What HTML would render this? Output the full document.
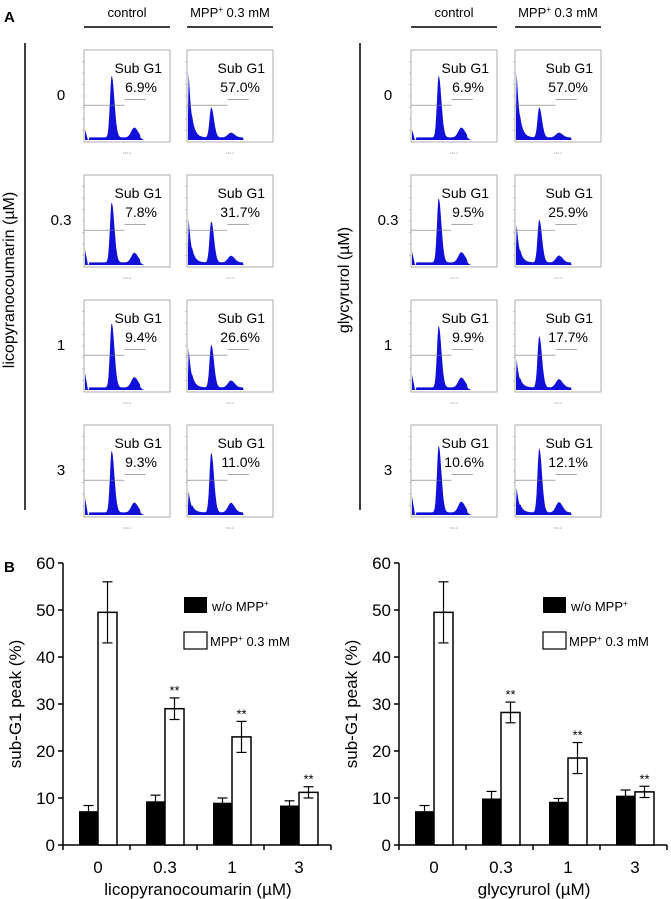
<!DOCTYPE html>
<html><head><meta charset="utf-8"><style>
body{margin:0;background:#fff}
svg{display:block;font-family:"Liberation Sans",Arial,sans-serif}
</style></head><body>
<svg id="fig" width="671" height="899" viewBox="0 0 671 899" xmlns="http://www.w3.org/2000/svg">
<text x="4" y="22" font-size="15" font-weight="bold">A</text>
<text x="4" y="572" font-size="15" font-weight="bold">B</text>
<g id="flow"></g>
<g id="bars"></g>
</svg>
<script>
// Flow panels: sub-G1 percentages
const rowLabels = ["0","0.3","1","3"];
const licoControl = ["6.9%","7.8%","9.4%","9.3%"];
const licoMpp = ["57.0%","31.7%","26.6%","11.0%"];
const glyControl = ["6.9%","9.5%","9.9%","10.6%"];
const glyMpp = ["57.0%","25.9%","17.7%","12.1%"];
// histogram shape params: sub-G1 height, G1 peak height (fractions)
const licoCtrlSub = [0.12,0.18,0.2,0.2], licoCtrlG1 = [0.72,0.7,0.75,0.72];
const licoMppSub = [1.0,0.68,0.62,0.35], licoMppG1 = [0.35,0.48,0.5,0.7];
const glyCtrlSub = [0.12,0.16,0.18,0.22], glyCtrlG1 = [0.72,0.75,0.72,0.78];
const glyMppSub = [1.0,0.6,0.45,0.4], glyMppG1 = [0.35,0.5,0.6,0.75];

// Bar chart data
const groups = ["0","0.3","1","3"];
const yTicks = [0,10,20,30,40,50,60];
const licoBlack = [7.2,9.3,9.0,8.4], licoBlackErr = [1.2,1.3,1.0,1.0];
const licoWhite = [49.5,29.0,23.0,11.2], licoWhiteErr = [6.5,2.3,3.3,1.2];
const glyBlack = [7.2,9.9,9.2,10.5], glyBlackErr = [1.2,1.5,0.7,1.2];
const glyWhite = [49.5,28.2,18.5,11.3], glyWhiteErr = [6.5,2.2,3.3,1.2];
const licoStars = [false,true,true,true], glyStars = [false,true,true,true];

const NS="http://www.w3.org/2000/svg";
function mk(tag,attrs,parent,txt){const e=document.createElementNS(NS,tag);for(const k in attrs)e.setAttribute(k,attrs[k]);if(txt!==undefined)e.textContent=txt;parent.appendChild(e);return e;}

const flow=document.getElementById('flow');
const rowTops=[50,175,300,425], PH=92, PW=86;
function bump(t,c,sl,sr){const s=t<c?sl:sr;return Math.exp(-Math.pow((t-c)/s,2));}
function histo(g,x0,y0,sub,g1,isMpp){
  const pos = isMpp?0.27:0.31;
  const base=y0+PH-2;
  let d=`M${x0+1},${base}`;
  for(let i=0;i<=80;i++){
    const t=i/80*0.68;
    let v;
    if(isMpp) v=sub*Math.exp(-t/0.035)*(t<0.005?0.3:1);
    else v=(t<0.035?sub*(1-t/0.035):0);
    v+=g1*bump(t,pos,0.028,0.045);
    v+=g1*0.16*bump(t,pos*1.85,0.05,0.06);
    v+=(t>0.05&&t<0.64)?0.03:0;
    d+=` L${(x0+1+t*PW).toFixed(1)},${(base-Math.min(v,1)*(PH-6)).toFixed(1)}`;
  }
  d+=` L${x0+1+0.68*PW},${base} Z`;
  const p=mk('path',{d,fill:'#1010d8'},g);
  
  
}
function panel(x0,y0,pct,sub,g1,isMpp){
  const g=mk('g',{},flow);
  
  
  mk('rect',{x:x0,y:y0,width:PW,height:PH,fill:'none',stroke:'#999','stroke-width':0.8},g);
  for(let k=1;k<8;k++) mk('line',{x1:x0-2,x2:x0,y1:y0+k*PH/8,y2:y0+k*PH/8,stroke:'#999','stroke-width':0.5},g);
  histo(g,x0,y0,sub,g1,isMpp);
  mk('line',{x1:x0,x2:x0+PW*0.47,y1:y0+PH*0.6,y2:y0+PH*0.6,stroke:'#777','stroke-width':0.7},g);
  mk('line',{x1:x0+PW*0.47,x2:x0+PW*0.72,y1:y0+PH*0.54,y2:y0+PH*0.54,stroke:'#777','stroke-width':0.7},g);
  const t1=mk('text',{x:x0+PW-8,y:y0+23,'font-size':14,'text-anchor':'end'},g,'Sub G1');
  
  const t2=mk('text',{x:x0+PW-13,y:y0+42,'font-size':14,'text-anchor':'end'},g,pct);
  
  mk('text',{x:x0+PW*0.5,y:y0+PH+12,'font-size':3,'text-anchor':'middle',fill:'#999'},g,'FL2-A');
}
function block(xc,xm,lineX,label,labelX,ctl,mpp,cs,cg,ms,mg){
  const h1=mk('text',{x:(xc+xc+PW)/2,y:17,'font-size':13,'text-anchor':'middle'},flow,'control');
  
  const h2=mk('text',{x:(xm+xm+PW)/2,y:17,'font-size':13,'text-anchor':'middle'},flow);
  
  h2.innerHTML='MPP<tspan font-size="8" dy="-5">+</tspan><tspan dy="5"> 0.3 mM</tspan>';
  mk('line',{x1:xc,x2:xc+PW,y1:27,y2:27,stroke:'#000','stroke-width':1.5},flow);
  mk('line',{x1:xm,x2:xm+PW,y1:27,y2:27,stroke:'#000','stroke-width':1.5},flow);
  mk('line',{x1:lineX,x2:lineX,y1:43,y2:510,stroke:'#000','stroke-width':1.5},flow);
  const yl=mk('text',{x:labelX,y:280,'font-size':16,'text-anchor':'middle',transform:`rotate(-90 ${labelX} 280)`},flow,label);
  
  for(let r=0;r<4;r++){
    const rl=mk('text',{x:xc-23,y:rowTops[r]+50,'font-size':15,'text-anchor':'middle'},flow,rowLabels[r]);
    
    panel(xc,rowTops[r],ctl[r],cs[r],cg[r],false);
    panel(xm,rowTops[r],mpp[r],ms[r],mg[r],true);
  }
}
block(84,187,25,'licopyranocoumarin (\u00b5M)',14,licoControl,licoMpp,licoCtrlSub,licoCtrlG1,licoMppSub,licoMppG1);
block(411,515,360,'glycyrurol (\u00b5M)',349,glyControl,glyMpp,glyCtrlSub,glyCtrlG1,glyMppSub,glyMppG1);

// Bar charts
const bars=document.getElementById('bars');
const Y0=845, Y60=563;
function yS(v){return Y0-(v/60)*(Y0-Y60);}
function chart(ax,blk,blkE,wht,whtE,stars,xtitle,legX){
  const g=mk('g',{},bars);
  
  
  const GW=67;
  mk('line',{x1:ax,x2:ax,y1:Y60,y2:Y0,stroke:'#000','stroke-width':1.5},g);
  mk('line',{x1:ax,x2:ax+GW*4,y1:Y0,y2:Y0,stroke:'#000','stroke-width':1.5},g);
  yTicks.forEach(t=>{
    mk('line',{x1:ax-5,x2:ax,y1:yS(t),y2:yS(t),stroke:'#000','stroke-width':1.5},g);
    const tl=mk('text',{x:ax-8,y:yS(t)+6,'font-size':17,'text-anchor':'end'},g,String(t));
    
  });
  for(let i=0;i<=4;i++) mk('line',{x1:ax+i*GW,x2:ax+i*GW,y1:Y0,y2:Y0+5,stroke:'#000','stroke-width':1.5},g);
  groups.forEach((c,i)=>{
    const gx=ax+i*GW;
    const xl=mk('text',{x:gx+35,y:Y0+28,'font-size':17,'text-anchor':'middle'},g,c);
    
    const b=mk('rect',{x:gx+16,y:yS(blk[i]),width:19,height:Y0-yS(blk[i]),fill:'#000'},g);
    
    const w=mk('rect',{x:gx+35,y:yS(wht[i]),width:19,height:Y0-yS(wht[i]),fill:'#fff',stroke:'#000','stroke-width':1.5},g);
    
    [[gx+25.5,blk[i],blkE[i]],[gx+44.5,wht[i],whtE[i]]].forEach(([cx,v,e])=>{
      mk('line',{x1:cx,x2:cx,y1:yS(v+e),y2:yS(v-e),stroke:'#000','stroke-width':1.2},g);
      mk('line',{x1:cx-5,x2:cx+5,y1:yS(v+e),y2:yS(v+e),stroke:'#000','stroke-width':1.2},g);
      mk('line',{x1:cx-5,x2:cx+5,y1:yS(v-e),y2:yS(v-e),stroke:'#000','stroke-width':1.2},g);
    });
    if(stars[i]){
      const s=mk('text',{x:gx+44.5,y:yS(wht[i]+whtE[i])-3,'font-size':13,'text-anchor':'middle'},g,'**');
      
    }
  });
  const yt=mk('text',{x:ax-42,y:704,'font-size':17,'text-anchor':'middle',transform:`rotate(-90 ${ax-42} 704)`},g,'sub-G1 peak (%)');
  
  const xt=mk('text',{x:ax+135,y:Y0+50,'font-size':17,'text-anchor':'middle'},g,xtitle);
  
  mk('rect',{x:legX,y:597,width:23,height:16,fill:'#000'},g);
  const l1=mk('text',{x:legX+28,y:611,'font-size':13},g);
  l1.innerHTML='w/o MPP<tspan font-size="8" dy="-5">+</tspan>';
  
  mk('rect',{x:legX,y:632,width:23,height:17,fill:'#fff',stroke:'#000','stroke-width':1.2},g);
  const l2=mk('text',{x:legX+26,y:646,'font-size':13},g);
  l2.innerHTML='MPP<tspan font-size="8" dy="-5">+</tspan><tspan dy="5"> 0.3 mM</tspan>';
  
}
chart(63,licoBlack,licoBlackErr,licoWhite,licoWhiteErr,licoStars,'licopyranocoumarin (\u00b5M)',184);
chart(399,glyBlack,glyBlackErr,glyWhite,glyWhiteErr,glyStars,'glycyrurol (\u00b5M)',543);
</script>
</body></html>
